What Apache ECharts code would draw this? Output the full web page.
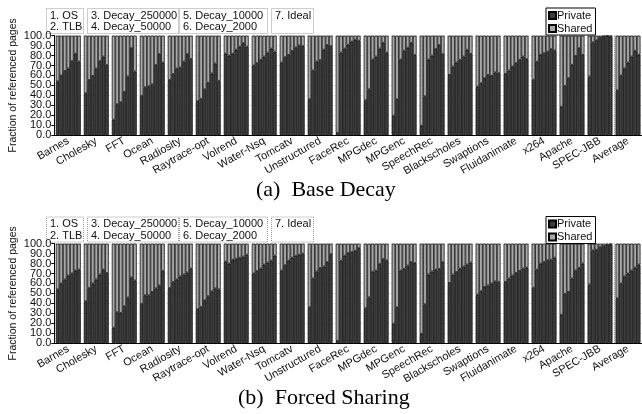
<!DOCTYPE html>
<html>
<head>
<meta charset="utf-8">
<script src="https://cdn.jsdelivr.net/npm/echarts@6/dist/echarts.min.js"></script>
<style>
  html, body { margin: 0; padding: 0; background: #fff; }
  #chart { width: 642px; height: 414px; }
</style>
</head>
<body>
<div id="chart"></div>
<script>
// Benchmarks on the x axis
const benchmarks = ['Barnes', 'Cholesky', 'FFT', 'Ocean', 'Radiosity', 'Raytrace-opt', 'Volrend',
  'Water-Nsq', 'Tomcatv', 'Unstructured', 'FaceRec', 'MPGdec', 'MPGenc', 'SpeechRec',
  'Blackscholes', 'Swaptions', 'Fluidanimate', 'x264', 'Apache', 'SPEC-JBB', 'Average'];

// Classification configurations, one bar each per benchmark
const configNames = ['OS', 'TLB', 'Decay_250000', 'Decay_50000', 'Decay_10000', 'Decay_2000', 'Ideal'];

// Y axis ticks (percent)
const yTicks = [0, 10, 20, 30, 40, 50, 60, 70, 80, 90, 100];

// Percentage of referenced pages classified as private
const osPrivate  = [54, 42, 15.5, 39.5, 55.4, 34, 82, 70, 73, 36, 2.3, 35, 19.5, 9.4, 60.6, 48.8, 61.6, 55.6, 28.6, 59, 45];
const tlbPrivate = [60, 55.4, 31, 48, 61.5, 36.5, 80, 72.4, 78.5, 65, 83, 46, 36, 39, 69, 52.2, 65, 74, 49.5, 93.3, 60];

// (a) Base Decay
const baseDecay250000 = [64.5, 59.5, 33, 49, 67, 46, 82, 75.8, 80.8, 74, 87, 76, 76, 76, 73, 57.2, 69, 80.8, 57.2, 95.3, 67];
const baseDecay50000  = [67, 67, 43.5, 51, 68, 52.7, 86, 79, 84.8, 75.5, 91, 79, 85, 80, 75.8, 60.6, 72.4, 82.5, 70.7, 98.3, 73];
const baseDecay10000  = [74.5, 74.5, 59, 70.5, 74, 62, 89, 83, 88.2, 86, 94, 87, 88, 86.6, 79, 59.6, 75.8, 84, 79.8, 99.3, 79];
const baseDecay2000   = [82, 79, 87.5, 81.5, 81.5, 72, 92.5, 87, 90.2, 90.6, 96, 93, 93, 90.6, 85.9, 63, 79, 86.5, 87.5, 99.7, 85];
const baseIdeal       = [74, 70.5, 64, 73, 76.5, 54.4, 89, 84, 89.5, 89.6, 95, 83, 80.5, 81.5, 81.8, 62.3, 76.4, 85.2, 80.8, 99.3, 81];

// (b) Forced Sharing
const forcedDecay250000 = [64, 60, 30.4, 48, 64, 43, 84, 75, 83, 72, 88, 72, 73, 69, 71.5, 56.5, 68, 80, 51.5, 94, 67];
const forcedDecay50000  = [68, 64, 37, 51.5, 67, 47, 85, 79, 86, 75.5, 90.6, 73, 74.8, 72, 75, 58, 70.6, 81.6, 65, 96.7, 70];
const forcedDecay10000  = [70, 69, 45.8, 55, 69, 52, 86, 81, 88, 77, 91.6, 79.5, 78, 74, 77, 60, 72.6, 83.3, 73, 97.6, 73];
const forcedDecay2000   = [73, 74, 66, 58, 71, 55, 87, 83, 89, 81.5, 93, 84.6, 81.5, 74.5, 79, 62, 75, 84, 75.6, 99, 76];
const forcedIdeal       = [74, 70.6, 63, 72.6, 75, 54, 89, 88, 90, 89.6, 95.6, 83.2, 80.5, 81.5, 81, 61.5, 76, 86, 80, 99.3, 79];

const panels = [
  { title: '(a)  Base Decay', series: [osPrivate, tlbPrivate, baseDecay250000, baseDecay50000, baseDecay10000, baseDecay2000, baseIdeal] },
  { title: '(b)  Forced Sharing', series: [osPrivate, tlbPrivate, forcedDecay250000, forcedDecay50000, forcedDecay10000, forcedDecay2000, forcedIdeal] }
];

const SANS = 'Liberation Sans, Arial, sans-serif';
const SERIF = 'Liberation Serif, Times New Roman, serif';
const PRIVATE_COLOR = '#3d3d3d';
const SHARED_COLOR = '#a8a8a8';

// Layout of the two panels
const gridTops = [35.7, 243.7];
const plotHeight = 99.3;
const plotLeft = 48.5;
const bandWidth = 28.65;
const keyTops = [8, 216.5];
const titleTops = [179, 387];

const yMin = yTicks[0];
const yMax = yTicks[yTicks.length - 1];
const yLabel = {
  margin: 3, fontSize: 11, color: '#111', fontFamily: SANS,
  formatter: v => v.toFixed(1)
};

const chart = echarts.init(document.getElementById('chart'), null, { renderer: 'canvas' });

const grids = [], xAxes = [], yAxes = [], series = [], legends = [], titles = [];

panels.forEach((panel, p) => {
  grids.push({ left: plotLeft, top: gridTops[p], height: plotHeight, width: bandWidth * benchmarks.length });

  xAxes.push({
    type: 'category', gridIndex: p, data: benchmarks,
    axisLine: { lineStyle: { color: '#000', width: 1 } },
    axisTick: { alignWithLabel: true, length: 3, lineStyle: { color: '#000' } },
    axisLabel: { interval: 0, rotate: 30, margin: 5, fontSize: 11, color: '#111', fontFamily: SANS },
    splitLine: { show: false }
  });

  // Main value axis: inner ticks 10.0 .. 90.0, grid lines and the axis title
  yAxes.push({
    type: 'value', gridIndex: p, min: yMin, max: yMax, interval: yTicks[1] - yTicks[0],
    name: 'Fraction of referenced pages', nameLocation: 'middle', nameGap: 34,
    nameTextStyle: { fontSize: 10.5, color: '#111', fontFamily: SANS },
    axisLine: { show: true, lineStyle: { color: '#000', width: 1 } },
    axisTick: { show: true, length: 3, lineStyle: { color: '#000' } },
    axisLabel: Object.assign({ showMinLabel: false, showMaxLabel: false }, yLabel),
    splitLine: { show: true, lineStyle: { color: '#cfcfcf', width: 0.6, type: 'dashed' } }
  });
  // Companion axis on the same side carrying the 0.0 and 100.0 end labels
  yAxes.push({
    type: 'value', gridIndex: p, position: 'left', offset: 0, min: yMin, max: yMax, interval: yMax - yMin,
    axisLine: { show: true, lineStyle: { color: '#000', width: 1 } },
    axisTick: { show: true, length: 3, lineStyle: { color: '#000' } },
    axisLabel: Object.assign({ showMinLabel: true, showMaxLabel: true }, yLabel),
    splitLine: { show: false }
  });

  panel.series.forEach((privateValues, k) => {
    const stack = 'p' + p + '-' + k;
    const common = {
      type: 'bar', xAxisIndex: p, yAxisIndex: 2 * p, stack: stack,
      barGap: '0%', barCategoryGap: '11%', animation: false
    };
    series.push(Object.assign({}, common, {
      name: 'Private', data: privateValues,
      itemStyle: { color: PRIVATE_COLOR, borderColor: '#000', borderWidth: 0.7 }
    }));
    series.push(Object.assign({}, common, {
      name: 'Shared', data: privateValues.map(v => +(100 - v).toFixed(1)),
      itemStyle: { color: SHARED_COLOR, borderColor: '#000', borderWidth: 0.7 }
    }));
  });

  legends.push({
    data: ['Private', 'Shared'], orient: 'vertical', left: 546, top: keyTops[p],
    icon: 'rect', itemWidth: 7, itemHeight: 7, itemGap: 2, selectedMode: false,
    padding: [2, 3, 1, 2], borderColor: '#000', borderWidth: 1,
    textStyle: { fontSize: 11, color: '#111', fontFamily: SANS, padding: [0, 0, 0, -4] }
  });

  titles.push({
    text: panel.title, left: 238 + (p === 0 ? 18 : 0), top: titleTops[p], padding: 0,
    textStyle: { fontFamily: SERIF, fontSize: 22, fontWeight: 'normal', color: '#000' }
  });
});

chart.setOption({
  animation: false,
  textStyle: { fontFamily: SANS },
  title: titles,
  legend: legends,
  grid: grids,
  xAxis: xAxes,
  yAxis: yAxes,
  series: series
});

// Numbered configuration keys in dotted boxes, plus the dotted separator before "Average"
const keyBoxes = [
  { x: 46, w: 37, items: [0, 1] },
  { x: 87, w: 91, items: [2, 3] },
  { x: 179, w: 88, items: [4, 5] },
  { x: 271, w: 42, items: [6] }
];
const graphics = [];
keyTops.forEach(top => {
  keyBoxes.forEach(box => {
    graphics.push({
      type: 'rect', shape: { x: box.x + 0.5, y: top + 0.5, width: box.w, height: 25 },
      style: { fill: 'none', stroke: '#9a9a9a', lineWidth: 1, lineDash: [1, 1] }, silent: true
    });
    box.items.forEach((idx, line) => {
      graphics.push({
        type: 'text', x: box.x + 4, y: top + 2 + line * 11.5,
        style: { text: (idx + 1) + '. ' + configNames[idx], fontSize: 11, fontFamily: SANS, fill: '#111' },
        silent: true
      });
    });
  });
});

[0, 1].forEach(p => {
  const last = benchmarks.length - 1;
  const xA = chart.convertToPixel({ xAxisIndex: p }, last);
  const xB = chart.convertToPixel({ xAxisIndex: p }, last - 1);
  const sepX = Math.round((xA + xB) / 2) + 0.5;
  const yTop = chart.convertToPixel({ yAxisIndex: 2 * p }, yMax);
  const yBottom = chart.convertToPixel({ yAxisIndex: 2 * p }, yMin);
  graphics.push({
    type: 'line', shape: { x1: sepX, y1: yTop, x2: sepX, y2: yBottom },
    style: { stroke: '#777', lineWidth: 1, lineDash: [1, 1] }, silent: true, z: 100
  });
});

chart.setOption({ graphic: graphics });
</script>
</body>
</html>
